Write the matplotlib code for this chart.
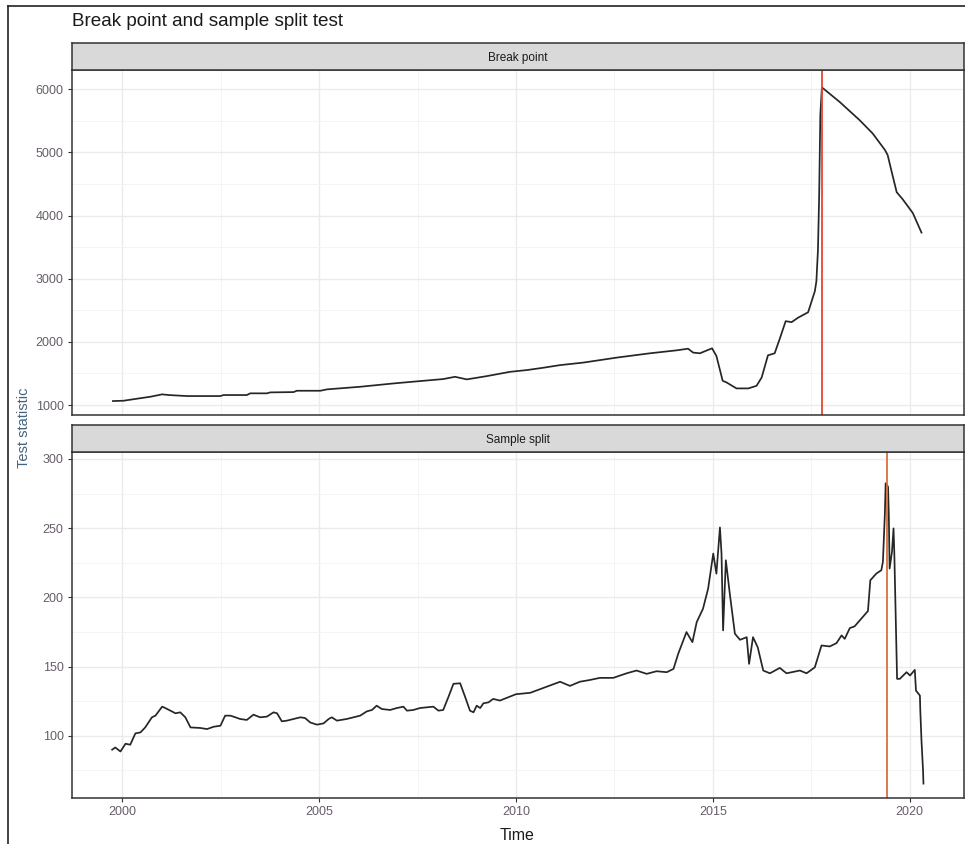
import numpy as np
import matplotlib.pyplot as plt
from matplotlib.lines import Line2D
from matplotlib.ticker import MultipleLocator

plt.rcParams['font.family'] = ['Liberation Sans', 'DejaVu Sans']

# --- données ---
bp_time = [1999.76, 2000.03, 2000.37, 2000.71, 2001.01, 2001.18, 2001.64, 2002.49,
           2002.57, 2003.16, 2003.25, 2003.67, 2003.76, 2004.35, 2004.43, 2005.03,
           2005.20, 2006.04, 2006.89, 2007.56, 2008.15, 2008.45, 2008.75, 2009.26,
           2009.85, 2010.27, 2010.69, 2011.12, 2011.71, 2012.56, 2013.40, 2014.08,
           2014.37, 2014.50, 2014.67, 2014.98, 2015.09, 2015.25, 2015.35, 2015.60,
           2015.90, 2016.11, 2016.24, 2016.40, 2016.57, 2016.70, 2016.85, 2017.00,
           2017.16, 2017.42, 2017.59, 2017.63, 2017.67, 2017.70, 2017.73, 2017.77,
           2018.22, 2018.73, 2019.06, 2019.37, 2019.44, 2019.54, 2019.67, 2019.82,
           2020.08, 2020.30]
bp_stat = [1063, 1068, 1100, 1131, 1169, 1158, 1142, 1142,
           1158, 1158, 1185, 1185, 1200, 1205, 1226, 1226,
           1248, 1289, 1342, 1379, 1411, 1447, 1406, 1458,
           1526, 1553, 1590, 1632, 1672, 1751, 1819, 1866,
           1892, 1830, 1819, 1898, 1777, 1383, 1357, 1263,
           1263, 1304, 1436, 1787, 1819, 2050, 2328, 2312,
           2381, 2469, 2800, 2957, 3457, 4300, 5590, 6030,
           5800, 5510, 5300, 5040, 4960, 4700, 4370, 4260,
           4040, 3730]

ss_time = [1999.74, 1999.82, 1999.95, 2000.08, 2000.20, 2000.33, 2000.46, 2000.58,
           2000.75, 2000.84, 2001.01, 2001.09, 2001.22, 2001.35, 2001.47, 2001.60,
           2001.73, 2001.98, 2002.15, 2002.32, 2002.49, 2002.61, 2002.74, 2002.82,
           2002.99, 2003.16, 2003.33, 2003.50, 2003.67, 2003.84, 2003.93, 2004.05,
           2004.18, 2004.35, 2004.52, 2004.64, 2004.77, 2004.94, 2005.11, 2005.24,
           2005.32, 2005.45, 2005.70, 2005.87, 2006.04, 2006.21, 2006.34, 2006.46,
           2006.59, 2006.80, 2006.97, 2007.14, 2007.23, 2007.39, 2007.56, 2007.73,
           2007.90, 2008.03, 2008.15, 2008.28, 2008.41, 2008.58, 2008.71, 2008.83,
           2008.92, 2009.00, 2009.09, 2009.17, 2009.30, 2009.42, 2009.59, 2010.00,
           2010.36, 2010.74, 2011.12, 2011.37, 2011.62, 2011.88, 2012.13, 2012.47,
           2012.81, 2013.06, 2013.32, 2013.57, 2013.83, 2014.00, 2014.12, 2014.33,
           2014.48, 2014.59, 2014.75, 2014.88, 2015.01, 2015.09, 2015.18, 2015.22,
           2015.26, 2015.33, 2015.43, 2015.56, 2015.69, 2015.86, 2015.92, 2016.02,
           2016.14, 2016.28, 2016.45, 2016.70, 2016.87, 2017.21, 2017.38, 2017.59,
           2017.76, 2017.97, 2018.14, 2018.27, 2018.35, 2018.48, 2018.60, 2018.77,
           2018.94, 2019.00, 2019.15, 2019.28, 2019.32, 2019.37, 2019.39, 2019.45,
           2019.47, 2019.49, 2019.55, 2019.59, 2019.61, 2019.64, 2019.68, 2019.75,
           2019.92, 2020.01, 2020.13, 2020.16, 2020.26, 2020.27, 2020.30, 2020.34,
           2020.35]
ss_stat = [89.9, 91.5, 88.6, 94.2, 93.5, 101.7, 102.4, 106.0,
           113.3, 114.5, 121.0, 120.0, 118.1, 116.2, 116.9, 113.3,
           106.0, 105.6, 104.8, 106.5, 107.2, 114.5, 114.5, 113.8,
           112.1, 111.4, 115.2, 113.3, 113.8, 116.9, 116.2, 110.4,
           110.9, 112.1, 113.3, 112.8, 109.6, 108.0, 108.9, 112.1,
           113.3, 110.9, 112.1, 113.3, 114.5, 117.6, 118.6, 121.7,
           119.3, 118.6, 120.0, 121.0, 118.1, 118.6, 120.0, 120.5,
           121.0, 118.1, 118.6, 127.8, 137.5, 137.9, 127.8, 118.1,
           116.9, 121.7, 120.0, 123.4, 124.1, 126.6, 125.4, 130.0,
           131.0, 135.0, 139.0, 136.0, 139.0, 140.3, 141.8, 141.8,
           145.1, 147.1, 144.7, 146.6, 145.9, 148.3, 159.2, 174.9,
           167.6, 182.1, 191.8, 206.3, 231.6, 217.1, 250.5, 231.6,
           176.1, 226.8, 202.7, 173.7, 169.3, 171.2, 151.9, 171.2,
           163.9, 147.1, 145.1, 149.0, 145.1, 147.1, 145.1, 149.4,
           165.2, 164.5, 166.9, 172.5, 170.0, 177.8, 179.0, 184.5,
           190.1, 212.3, 217.1, 219.6, 225.6, 260.6, 282.4, 279.9,
           259.4, 220.8, 232.8, 249.8, 231.6, 193.0, 141.1, 141.1,
           145.9, 143.5, 147.6, 132.6, 129.0, 118.1, 96.4, 74.6,
           65.4]

bp_break = 2017.77
ss_break = 2019.42

x_ticks = [2000, 2005, 2010, 2015, 2020]
bp_ticks = [1000, 2000, 3000, 4000, 5000, 6000]
ss_ticks = [100, 150, 200, 250, 300]

W, H = 965, 844
fig = plt.figure(figsize=(W / 100, H / 100), dpi=100)


def fx(px):
    return px / W


def fy(py):
    return 1 - py / H


left, right = 72, 964
tick_col = '#675d69'


def panel(top, bottom, label, t, v, brk, brk_col, ylim, yticks, ystep, show_x):
    ax = fig.add_axes([fx(left), fy(bottom), fx(right - left), (bottom - top) / H])
    ax.set_xlim(1998.72, 2021.38)
    ax.set_ylim(*ylim)
    ax.set_xticks(x_ticks)
    ax.xaxis.set_minor_locator(MultipleLocator(2.5))
    ax.set_yticks(yticks)
    ax.yaxis.set_minor_locator(MultipleLocator(ystep / 2))
    ax.grid(which='major', color='#ebebeb', lw=1.0)
    ax.grid(which='minor', color='#f3f3f3', lw=0.6)
    ax.set_axisbelow(True)
    for s in ax.spines.values():
        s.set_color('#333333')
        s.set_linewidth(1.1)
    ax.tick_params(which='major', length=3, color='#333333', labelsize=9,
                   labelcolor=tick_col, pad=3)
    ax.tick_params(which='minor', length=0)
    if not show_x:
        ax.tick_params(axis='x', labelbottom=False, length=0)
    ax.plot(t, v, color='#262626', lw=1.25, solid_joinstyle='round')
    ax.axvline(brk, color=brk_col, lw=1.3)

    # bandeau de facette
    sax = fig.add_axes([fx(left), fy(top), fx(right - left), 27 / H])
    sax.set_xticks([])
    sax.set_yticks([])
    sax.set_facecolor('#d9d9d9')
    for s in sax.spines.values():
        s.set_color('#333333')
        s.set_linewidth(1.1)
    sax.text(0.5, 0.45, label, ha='center', va='center', fontsize=8.5,
             color='#1a1a1a', transform=sax.transAxes)
    return ax


panel(70, 415, 'Break point', bp_time, bp_stat, bp_break, '#e5462e',
      (842, 6305), bp_ticks, 1000, False)
panel(452, 798, 'Sample split', ss_time, ss_stat, ss_break, '#d8703e',
      (55, 305), ss_ticks, 50, True)

fig.text(fx(72), fy(22), 'Break point and sample split test', fontsize=13.6,
         color='#1a1a1a', va='center', ha='left')
fig.text(fx(24), fy(428), 'Test statistic', rotation=90, fontsize=10.5,
         color='#46627f', va='center', ha='center')
fig.text(fx(517), fy(828), 'Time', fontsize=11.5, color='#1a1a1a',
         va='top', ha='center')

# cadre de la capture
fig.add_artist(Line2D([fx(7.5), fx(7.5)], [0, fy(6)], color='#222222', lw=1.2))
fig.add_artist(Line2D([fx(7.5), 1], [fy(6), fy(6)], color='#222222', lw=1.2))

fig.savefig('out.png', dpi=100)
